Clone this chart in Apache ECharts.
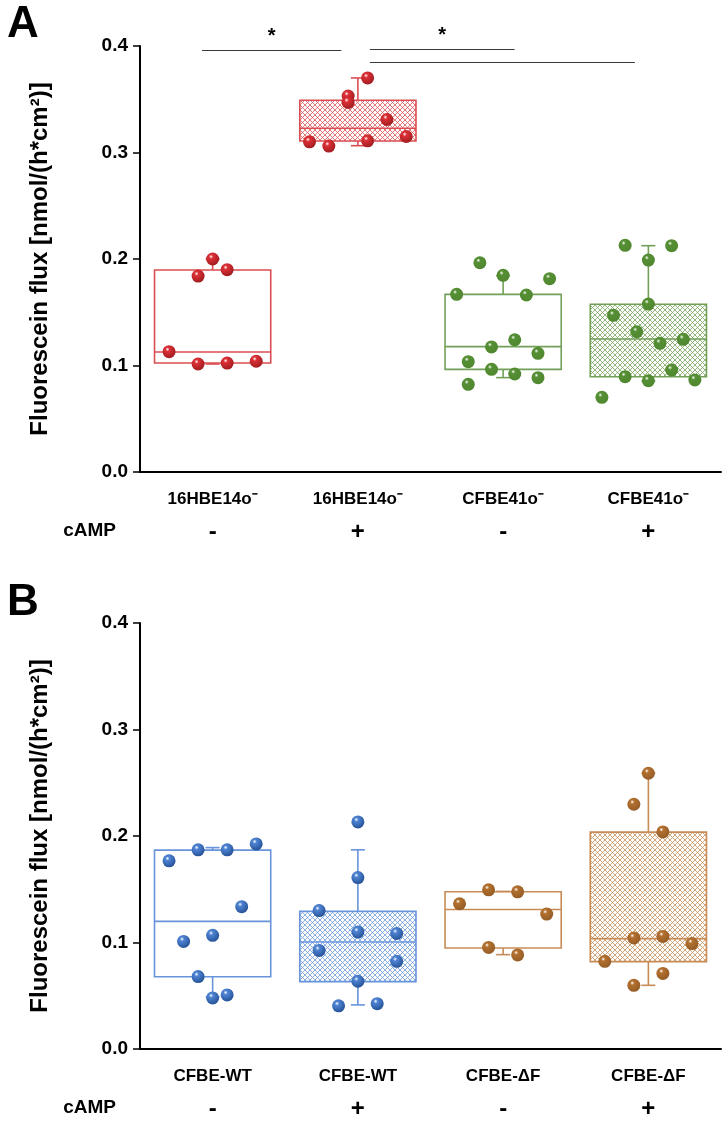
<!DOCTYPE html>
<html>
<head>
<meta charset="utf-8">
<script src="https://cdn.jsdelivr.net/npm/echarts@6/dist/echarts.min.js"></script>
<style>
  html, body { margin: 0; padding: 0; background: #fff; }
  #chart { width: 728px; height: 1121px; }
</style>
</head>
<body>
<div id="chart"></div>
<script>
// categories and row labels
const categoriesA = ['16HBE14o\u207B', '16HBE14o\u207B', 'CFBE41o\u207B', 'CFBE41o\u207B']
const categoriesB = ['CFBE-WT', 'CFBE-WT', 'CFBE-\u0394F', 'CFBE-\u0394F']
const campSigns = ['-', '+', '-', '+']

// box statistics: [min, q1, median, q3, max]
const statsA = [
  [0.1014, 0.1023, 0.1127, 0.1897, 0.200],
  [0.3064, 0.3108, 0.3227, 0.349, 0.370],
  [0.0886, 0.0964, 0.1177, 0.1668, 0.1843],
  [0.0854, 0.0895, 0.1249, 0.1575, 0.2125]
]
const statsB = [
  [0.0489, 0.0679, 0.1198, 0.1867, 0.1891],
  [0.0414, 0.0633, 0.1005, 0.1292, 0.187],
  [0.0886, 0.0948, 0.131, 0.1476, 0.148],
  [0.0598, 0.082, 0.1036, 0.2036, 0.2589]
]

// single measurements per group
const pointsA = [
  [0.200, 0.190, 0.184, 0.113, 0.1014, 0.1023, 0.104],
  [0.370, 0.353, 0.347, 0.331, 0.315, 0.311, 0.310, 0.306],
  [0.1965, 0.1847, 0.1815, 0.1668, 0.1662, 0.1242, 0.1174, 0.1114, 0.1036, 0.0964, 0.092, 0.0886, 0.0823],
  [0.2128, 0.2125, 0.199, 0.1577, 0.1471, 0.1317, 0.1246, 0.1208, 0.0958, 0.0895, 0.0857, 0.0864, 0.0701]
]
const pointsB = [
  [0.187, 0.187, 0.1926, 0.1767, 0.1336, 0.1067, 0.101, 0.068, 0.0508, 0.048],
  [0.2132, 0.161, 0.130, 0.1098, 0.1085, 0.0926, 0.0823, 0.0636, 0.0426, 0.0405],
  [0.1495, 0.1476, 0.1364, 0.1267, 0.0954, 0.0883],
  [0.2589, 0.2298, 0.2038, 0.1042, 0.1057, 0.0823, 0.099, 0.071, 0.0598]
]

// horizontal jitter of the dots, in category widths
const jitterA = [
  [0, 0.1, -0.1, -0.3, -0.1, 0.1, 0.3],
  [0.067, -0.067, -0.067, 0.2, 0.333, 0.067, -0.333, -0.2],
  [-0.16, 0, 0.32, -0.32, 0.16, 0.08, -0.08, 0.24, -0.24, -0.08, 0.08, 0.24, -0.24],
  [-0.16, 0.16, 0, 0, -0.24, -0.08, 0.24, 0.08, 0.16, -0.16, 0, 0.32, -0.32]
]
const jitterB = [
  [-0.1, 0.1, 0.3, -0.3, 0.2, 0, -0.2, -0.1, 0.1, 0],
  [0, 0, -0.267, 0, 0.267, -0.267, 0.267, 0, 0.133, -0.133],
  [-0.1, 0.1, -0.3, 0.3, -0.1, 0.1],
  [0, -0.1, 0.1, -0.1, 0.1, -0.3, 0.3, 0.1, -0.1]
]

// significance bars in panel A: [from, to, value]
const sigBars = [[-0.073, 0.886, 0.396], [1.083, 2.079, 0.397], [1.083, 2.907, 0.385]]
const sigLabels = ['*', '*', '']

const FONT = "'Liberation Sans', Arial, sans-serif"
const dotColorsA = ['#dc3036', '#dc3036', '#558f33', '#558f33']
const lineColorsA = ['#dc4d52', '#dc4d52', '#72a058', '#72a058']
const dotColorsB = ['#4f84d4', '#4f84d4', '#b3702e', '#b3702e']
const lineColorsB = ['#6794da', '#6794da', '#c78c56', '#c78c56']
const hatched = [false, true, false, true]

function hatch(color) {
  const c = document.createElement('canvas')
  c.width = 5
  c.height = 5
  const ctx = c.getContext('2d')
  ctx.strokeStyle = color
  ctx.lineWidth = 0.9
  ctx.beginPath()
  ctx.moveTo(0, 0); ctx.lineTo(5, 5)
  ctx.moveTo(5, 0); ctx.lineTo(0, 5)
  ctx.stroke()
  return { image: c, repeat: 'repeat' }
}

function ball(color) {
  return new echarts.graphic.RadialGradient(0.38, 0.32, 0.72, [
    { offset: 0, color: '#ffffff' },
    { offset: 0.22, color: color },
    { offset: 1, color: echarts.color.modifyHSL(color, null, null, 0.36) }
  ])
}

function boxRenderer(lineColors) {
  return function (params, api) {
    const i = api.value(0)
    const low = api.coord([i, api.value(1)])
    const q1 = api.coord([i, api.value(2)])
    const med = api.coord([i, api.value(3)])
    const q3 = api.coord([i, api.value(4)])
    const high = api.coord([i, api.value(5)])
    const unit = api.size([1, 0])[0]
    const half = unit * 0.4
    const cap = 7
    const col = lineColors[params.dataIndex]
    const fill = hatched[params.dataIndex] ? hatch(echarts.color.modifyAlpha(col, 0.85)) : 'rgba(255,255,255,0)'
    const stroke = { stroke: col, lineWidth: 1.6 }
    const x = q3[0]
    return {
      type: 'group',
      children: [
        { type: 'rect', shape: { x: x - half, y: q3[1], width: half * 2, height: q1[1] - q3[1] }, style: Object.assign({ fill: fill }, stroke) },
        { type: 'line', shape: { x1: x - half, y1: med[1], x2: x + half, y2: med[1] }, style: stroke },
        { type: 'line', shape: { x1: x, y1: q3[1], x2: x, y2: high[1] }, style: stroke },
        { type: 'line', shape: { x1: x - cap, y1: high[1], x2: x + cap, y2: high[1] }, style: stroke },
        { type: 'line', shape: { x1: x, y1: q1[1], x2: x, y2: low[1] }, style: stroke },
        { type: 'line', shape: { x1: x - cap, y1: low[1], x2: x + cap, y2: low[1] }, style: stroke }
      ]
    }
  }
}

function panelAxes(gridIndex, categories) {
  return [
    {
      type: 'category', gridIndex: gridIndex, data: categories,
      axisLine: { onZero: false, lineStyle: { color: '#000', width: 2 } },
      axisTick: { show: false },
      axisLabel: { color: '#000', fontFamily: FONT, fontWeight: 'bold', fontSize: 17, margin: 19 }
    },
    {
      type: 'category', gridIndex: gridIndex, data: campSigns, position: 'bottom', offset: 48,
      axisLine: { show: false, onZero: false }, axisTick: { show: false },
      axisLabel: { color: '#000', fontFamily: FONT, fontWeight: 'bold', fontSize: 24, margin: 0, verticalAlign: 'top' }
    },
    { type: 'value', gridIndex: gridIndex, min: -0.5, max: 3.5, show: false }
  ]
}

function yAxis(gridIndex) {
  return {
    type: 'value', gridIndex: gridIndex, min: 0, max: 0.4, interval: 0.1,
    name: 'Fluorescein flux [nmol/(h*cm\u00B2)]', nameLocation: 'middle', nameGap: 88,
    nameTextStyle: { color: '#000', fontFamily: FONT, fontWeight: 'bold', fontSize: 24 },
    axisLine: { show: true, onZero: false, lineStyle: { color: '#000', width: 2 } },
    axisTick: { show: true, length: 7, lineStyle: { color: '#000', width: 1.5 } },
    axisLabel: { color: '#000', fontFamily: FONT, fontWeight: 'bold', fontSize: 19, margin: 12, formatter: v => v.toFixed(1) },
    splitLine: { show: false }
  }
}

function panelSeries(gridIndex, stats, points, jitter, dotColors, lineColors) {
  const xi = gridIndex * 3 + 2
  const series = [{
    type: 'custom', xAxisIndex: xi, yAxisIndex: gridIndex, z: 2,
    renderItem: boxRenderer(lineColors),
    data: stats.map((s, i) => [i].concat(s))
  }]
  points.forEach((vals, g) => {
    series.push({
      type: 'scatter', xAxisIndex: xi, yAxisIndex: gridIndex, z: 3,
      symbolSize: 13,
      itemStyle: { color: ball(dotColors[g]), opacity: 1 },
      data: vals.map((v, k) => [g + jitter[g][k], v])
    })
  })
  return series
}

const chart = echarts.init(document.getElementById('chart'), null, { renderer: 'canvas' })

const seriesA = panelSeries(0, statsA, pointsA, jitterA, dotColorsA, lineColorsA)
const seriesB = panelSeries(1, statsB, pointsB, jitterB, dotColorsB, lineColorsB)

seriesA[1].markLine = {
  silent: true,
  symbol: ['none', 'none'],
  lineStyle: { color: '#3a3a3a', width: 1.2, type: 'solid' },
  label: { show: true, position: 'middle', color: '#000', fontFamily: FONT, fontWeight: 'bold', fontSize: 20, distance: 4 },
  data: sigBars.map((b, i) => [
    { coord: [b[0], b[2]], label: { show: sigLabels[i] !== '', formatter: sigLabels[i] } },
    { coord: [b[1], b[2]] }
  ])
}

const campStyle = { text: 'cAMP', font: 'bold 19px ' + FONT, fill: '#000', align: 'right', verticalAlign: 'middle' }

chart.setOption({
  animation: false,
  backgroundColor: '#fff',
  graphic: [
    { type: 'text', left: 7, top: 3, style: { text: 'A', font: 'bold 44px ' + FONT, fill: '#000' } },
    { type: 'text', left: 7, top: 581, style: { text: 'B', font: 'bold 44px ' + FONT, fill: '#000' } },
    { type: 'text', x: 116, y: 531, style: campStyle },
    { type: 'text', x: 116, y: 1108, style: campStyle }
  ],
  grid: [
    { left: 140, right: 7, top: 46, height: 426 },
    { left: 140, right: 7, top: 623, height: 426 }
  ],
  xAxis: panelAxes(0, categoriesA).concat(panelAxes(1, categoriesB)),
  yAxis: [yAxis(0), yAxis(1)],
  series: seriesA.concat(seriesB)
})
</script>
</body>
</html>
